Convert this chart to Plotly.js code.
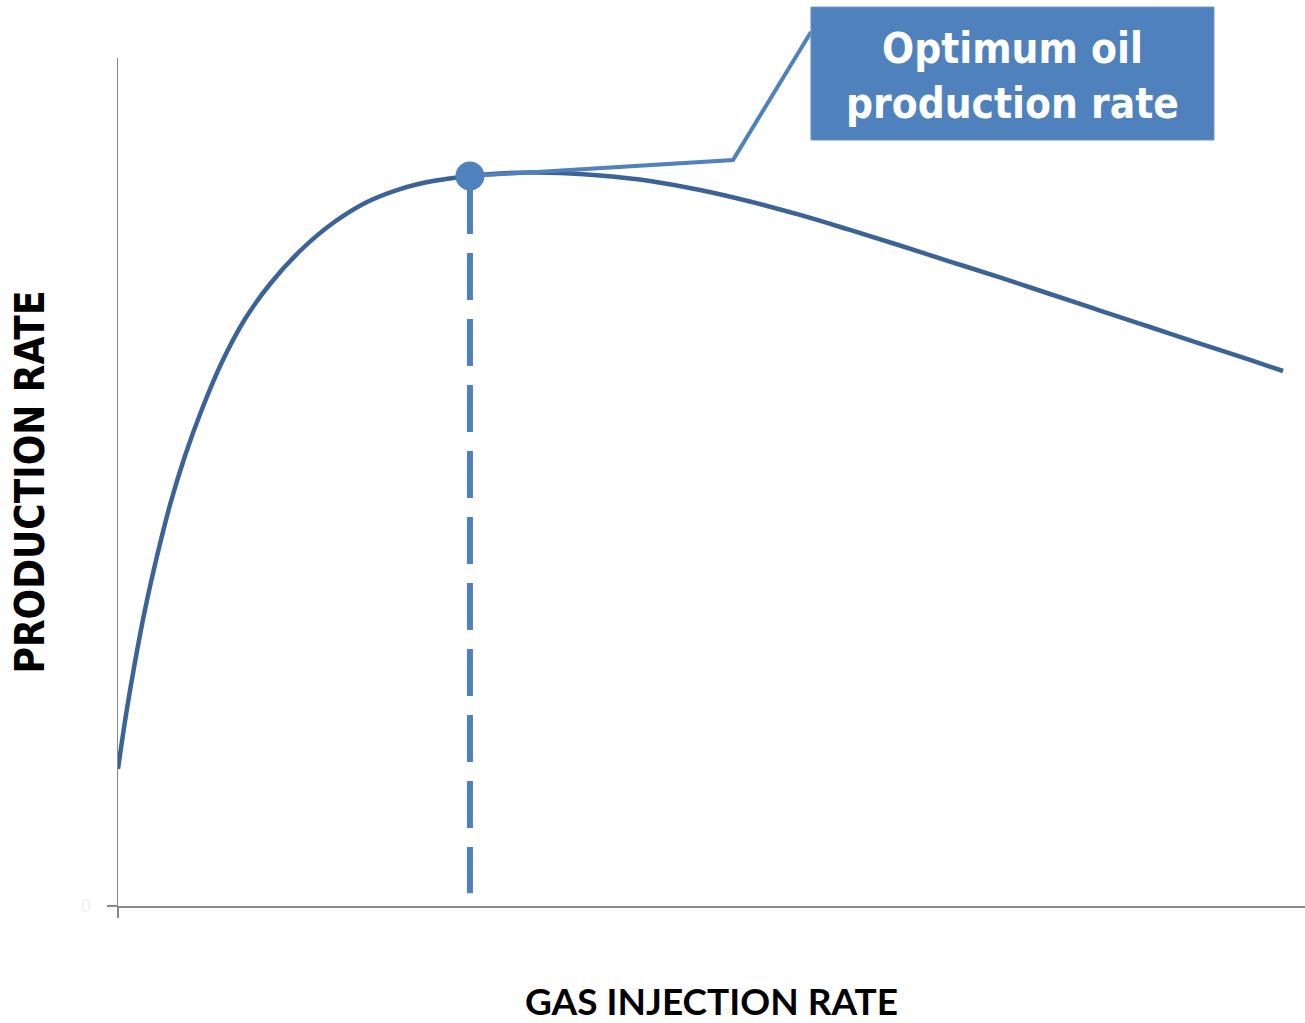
<!DOCTYPE html>
<html><head><meta charset="utf-8">
<script src="https://cdn.plot.ly/plotly-3.0.1.min.js"></script>
<style>html,body{margin:0;padding:0;background:#fff}#chart{width:1305px;height:1023px}</style>
</head><body><div id="chart"></div>
<script>
// Gas-lift performance curve
const gasInjection = [0, 0.67, 1.43, 2.27, 3.29, 4.38, 5.64, 7.08, 8.76, 10.70, 12.81, 15.33, 18.11, 20.98, 23.76, 26.54, 29.65, 32.18, 34.71, 37.24, 40.61, 44.82, 49.03, 53.24, 57.46, 61.67, 65.88, 70.09, 74.30, 78.52, 82.73, 86.94, 91.15, 95.37, 98.15];
const productionRate = [16.16, 22.52, 28.77, 34.91, 41.27, 47.29, 53.07, 58.61, 64.15, 69.22, 73.35, 77.24, 80.54, 83.02, 84.55, 85.50, 86.08, 86.38, 86.50, 86.44, 86.14, 85.50, 84.43, 83.08, 81.49, 79.72, 77.89, 76.00, 74.12, 72.17, 70.22, 68.28, 66.33, 64.39, 63.09];
const optimumX = [29.65];
const optimumY = [86.08];
const calloutText = "Optimum oil<br>production rate";
const xTitle = "GAS INJECTION RATE";
const yTitle = "PRODUCTION RATE";
const originTick = [0];
const originLabel = ["0"];

const xRange = [0, 100];
const yRange = [0, 100];
const blue = "#4f81bd";
const curveBlue = "#3b6397";
const tahoma = "'DejaVu Sans Condensed', 'DejaVu Sans', sans-serif";
const calibri = "Lato, 'DejaVu Sans Condensed', sans-serif";

// drop line from the optimum point down to the axis
const dropX = [optimumX[0], optimumX[0]];
const dropY = [optimumY[0] - 1.3, 1.5];

const traces = [
  {
    x: gasInjection, y: productionRate, type: "scatter", mode: "lines",
    line: {color: curveBlue, width: 4.5, shape: "spline", smoothing: 1},
    hoverinfo: "skip", showlegend: false
  },
  {
    x: dropX, y: dropY, type: "scatter", mode: "lines",
    line: {color: blue, width: 6, dash: "47px,19px"},
    hoverinfo: "skip", showlegend: false
  },
  {
    x: optimumX, y: optimumY, type: "scatter", mode: "markers",
    marker: {color: blue, size: 29, line: {width: 0}},
    hoverinfo: "skip", showlegend: false, cliponaxis: false
  }
];

// paper coordinates of the optimum point (leader line start)
const px = (optimumX[0] - xRange[0]) / (xRange[1] - xRange[0]);
const py = (optimumY[0] - yRange[0]) / (yRange[1] - yRange[0]);

const layout = {
  width: 1305, height: 1023,
  margin: {l: 118, r: 0, t: 58, b: 117},
  paper_bgcolor: "#ffffff", plot_bgcolor: "#ffffff",
  showlegend: false,
  xaxis: {
    range: xRange, showgrid: false, zeroline: false,
    showline: true, linecolor: "#888888", linewidth: 1.5,
    ticks: "outside", ticklen: 10, tickwidth: 1.5, tickcolor: "#888888",
    tickvals: originTick, showticklabels: false,
    title: {text: xTitle, font: {family: calibri, size: 37, color: "#000000", weight: "bold"}, standoff: 76},
    fixedrange: true
  },
  yaxis: {
    range: yRange, showgrid: false, zeroline: false,
    showline: true, linecolor: "#888888", linewidth: 1.5,
    ticks: "outside", ticklen: 10, tickwidth: 1.5, tickcolor: "#888888",
    tickvals: originTick, ticktext: originLabel,
    tickfont: {family: "Liberation Sans", size: 18, color: "#f2f2f2"},
    ticklabelstandoff: 12,
    title: {text: yTitle, font: {family: tahoma, size: 40, color: "#000000", weight: "bold"}, standoff: 24},
    fixedrange: true
  },
  shapes: [
    {
      type: "path", xref: "paper", yref: "paper",
      path: "M " + px + "," + py + " L 0.5181,0.8797 L 0.5838,1.0307",
      line: {color: blue, width: 4}
    },
    {
      type: "rect", xref: "paper", yref: "paper",
      x0: 0.5838, x1: 0.9233, y0: 0.9033, y1: 1.0601,
      fillcolor: blue, line: {color: "#6a94c8", width: 1}
    }
  ],
  annotations: [
    {
      xref: "paper", yref: "paper", x: 0.7535, y: 0.9793,
      xanchor: "center", yanchor: "middle", showarrow: false,
      text: calloutText, align: "center",
      font: {family: tahoma, size: 42, color: "#ffffff", weight: "bold"}
    }
  ]
};

Plotly.newPlot("chart", traces, layout, {displayModeBar: false, staticPlot: true});
</script>
</body></html>
